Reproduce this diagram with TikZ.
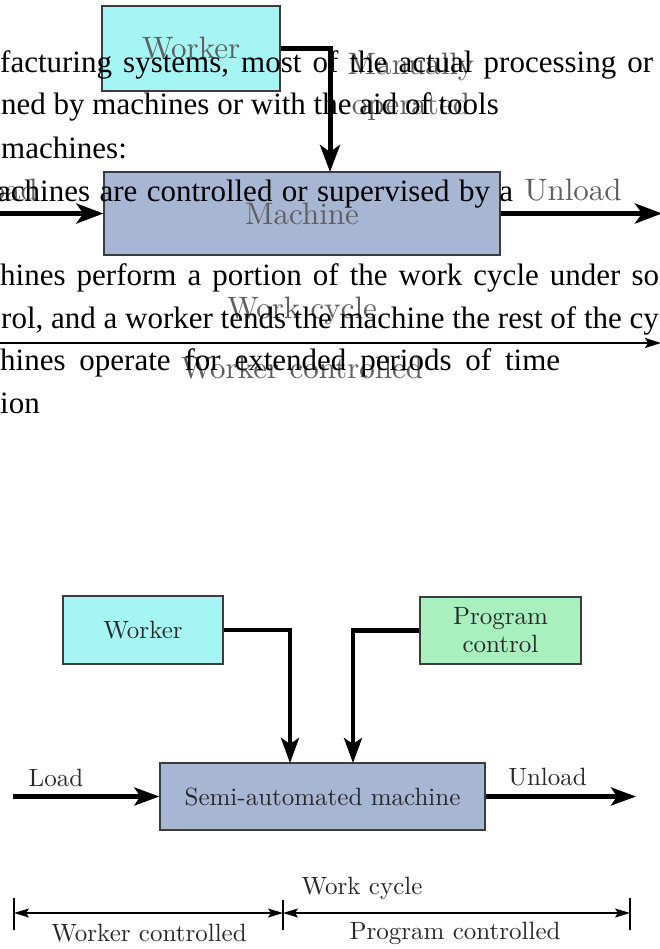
\documentclass[tikz,border=0pt]{standalone}
\usepackage{fontspec}
\usepackage{tikz}
\usetikzlibrary{arrows.meta}

\newfontfamily\slidefont{Liberation Serif}
\newfontfamily\diagfont{lmroman10-regular.otf}
\definecolor{workerfill}{RGB}{166,245,245}
\definecolor{programfill}{RGB}{168,240,190}
\definecolor{machinefill}{RGB}{167,182,211}
\definecolor{boxline}{RGB}{60,60,60}
\definecolor{toptext}{RGB}{95,95,95}
\definecolor{bottext}{RGB}{40,40,40}

\begin{document}
\begin{tikzpicture}[
				x=1pt, y=-1pt,
				box style/.style={
					draw=boxline,
					line width=1.3pt,
					align=center,
					inner sep=0pt
				},
				top label/.style={text=toptext, font=\diagfont\fontsize{31}{40}\selectfont, align=center, inner sep=0pt},
				bot label/.style={text=bottext, font=\diagfont\fontsize{25}{28}\selectfont, align=center, inner sep=0pt},
				slide line/.style={anchor=base west, inner sep=0pt, font=\slidefont\fontsize{31}{37}\selectfont},
				flow top/.style={line width=5pt, -{Stealth[length=27pt,width=20pt,inset=7pt]}},
				flow bot/.style={line width=4.3pt, -{Stealth[length=25pt,width=18pt,inset=6pt]}},
				dim line/.style={line width=1.4pt, {Stealth[length=15pt,width=9pt,inset=3pt]}-{Stealth[length=15pt,width=9pt,inset=3pt]}},
				tick/.style={line width=1.4pt}
				]
				
				\useasboundingbox (0,0) rectangle (660,949);
				\fill[white] (0,0) rectangle (660,949);
				\clip (0,0) rectangle (660,949);
				
				% manually operated machine, behind the slide text
				\node[box style, top label, fill=workerfill, minimum width=178pt, minimum height=85pt] (tworker) at (191,48.5) {Worker};
				\node[box style, top label, fill=machinefill, minimum width=396pt, minimum height=83pt] (tmachine) at (302,213.5) {Machine};
				
				\coordinate (tin) at (330,172);
				\coordinate (tload) at (-5,213.5);
				\coordinate (tout) at (662,213.5);
				\coordinate (tcycle0) at (-5,343);
				\coordinate (tcycle1) at (661,343);
				
				\node[top label] (tmanual) at (411,87) {Manually\\operated};
				\node[top label, anchor=east] (tloadtxt) at (38,190) {Load};
				\node[top label] (tunloadtxt) at (573,190) {Unload};
				\node[top label] (tcycletxt) at (302,311) {Work cycle};
				\node[top label] (tworkertxt) at (302,368) {Worker controlled};
				
				\draw[flow top] (tworker.east) -| (tin);
				\draw[flow top] (tload) -- (tmachine.west);
				\draw[flow top] (tmachine.east) -- (tout);
				\draw[line width=2pt, -{Stealth[length=16pt,width=10pt,inset=3pt]}] (tcycle0) -- (tcycle1);
				
				% slide text
				\node[slide line] (line1) at (0,73) {\makebox[653pt][s]{facturing systems, most of the actual processing or}};
				\node[slide line] (line2) at (1,115) {ned by machines or with the aid of tools};
				\node[slide line] (line3) at (1,159) {machines:};
				\node[slide line] (line4) at (-3,202) {\makebox[516pt][s]{achines are controlled or supervised by a}};
				\node[slide line] (line5) at (0,285) {\makebox[683pt][s]{hines perform a portion of the work cycle under som}};
				\node[slide line] (line6) at (1,328) {rol, and a worker tends the machine the rest of the cyc};
				\node[slide line] (line7) at (0,370) {\makebox[560pt][s]{hines operate for extended periods of time}};
				\node[slide line] (line8) at (0,413) {ion};
				
				% semi-automated machine
				\node[box style, bot label, fill=workerfill, minimum width=160pt, minimum height=68pt] (bworker) at (143,630) {Worker};
				\node[box style, bot label, fill=programfill, minimum width=161pt, minimum height=67pt] (bprog) at (500.5,630.5) {Program\\control};
				\node[box style, bot label, fill=machinefill, minimum width=325pt, minimum height=67pt] (bmach) at (322.5,796.5) {Semi-automated machine};
				
				\coordinate (bin1) at (290,763);
				\coordinate (bin2) at (353,763);
				\coordinate (bload) at (13,796.5);
				\coordinate (bout) at (636,796.5);
				
				\node[bot label] (bloadtxt) at (56,778) {Load};
				\node[bot label] (bunloadtxt) at (547.5,777) {Unload};
				
				\draw[flow bot] (bworker.east) -| (bin1);
				\draw[flow bot] (bprog.west) -| (bin2);
				\draw[flow bot] (bload) -- (bmach.west);
				\draw[flow bot] (bmach.east) -- (bout);
				
				% work cycle
				\coordinate (d0) at (14,913);
				\coordinate (d1) at (283,913);
				\coordinate (d2) at (630,913);
				
				\draw[dim line] (d0) -- (d1);
				\draw[dim line] (d1) -- (d2);
				\draw[tick] ([yshift=15pt]d0) -- ([yshift=-17pt]d0);
				\draw[tick] ([yshift=13pt]d1) -- ([yshift=-17pt]d1);
				\draw[tick] ([yshift=15pt]d2) -- ([yshift=-17pt]d2);
				
				\node[bot label] (bcycletxt) at (362,888) {Work cycle};
				\node[bot label] (bworkertxt) at (149,933) {Worker controlled};
				\node[bot label] (bprogtxt) at (455,933) {Program controlled};
				
			\end{tikzpicture}
\end{document}
